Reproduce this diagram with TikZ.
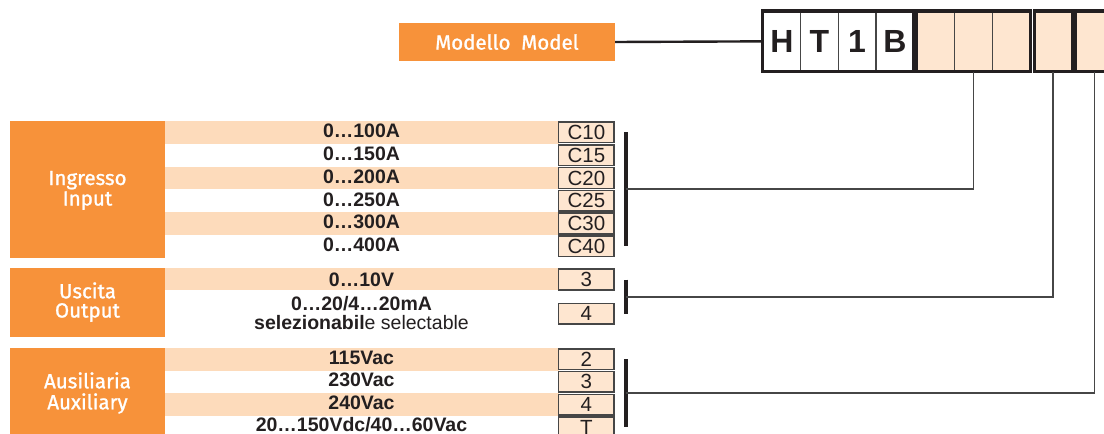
\documentclass[tikz,border=0pt]{standalone}
\usepackage{fontspec}
\setmainfont{Liberation Sans}
\newfontfamily\lblfont{Fira Sans}[FakeBold=1.2]
\usetikzlibrary{calc}
\definecolor{orng}{RGB}{247,146,58}
\definecolor{stripec}{RGB}{253,219,187}
\definecolor{peach}{RGB}{254,230,208}
\definecolor{ink}{RGB}{35,31,32}
\definecolor{lineg}{RGB}{70,70,70}
\tikzset{
  orangebox/.style={fill=orng, draw=none, inner sep=0pt, minimum width=155pt},
  wlabel/.style={text=white, anchor=base, inner sep=0pt, font=\lblfont\fontsize{20.5}{24}\selectfont},
  value/.style={text=ink, anchor=base, inner sep=0pt, font=\bfseries\fontsize{19.5}{22}\selectfont},
  codebox/.style={fill=peach, draw=lineg, line width=1.4pt, minimum width=55.3pt, minimum height=20.7pt, inner sep=0pt, text=ink, font=\fontsize{20.5}{22}\selectfont},
  cell/.style={draw=lineg, line width=1.2pt, minimum width=37.65pt, minimum height=59.3pt, inner sep=0pt, text=ink, font=\bfseries\fontsize{32}{34}\selectfont},
  pcell/.style={cell, fill=peach},
  frame/.style={draw=ink, line width=3.5pt},
  conn/.style={draw=lineg, line width=1.8pt},
  bar/.style={draw=ink, line width=4pt}
}
\begin{document}
\begin{tikzpicture}[x=1pt,y=-1pt]
\useasboundingbox (0,0) rectangle (1104,434);
\clip (0,0) rectangle (1104,434);
\fill[white] (0,0) rectangle (1104,434);

% model code header
\node[fill=orng, inner sep=0pt, minimum width=216pt, minimum height=38pt, text=white,
      font=\lblfont\fontsize{20.5}{24}\selectfont] (model) at (507,42) {Modello\ \ Model};
\node[cell] (h1) at (781.8,41.35) {H};
\node[cell] (h2) at (819.5,41.35) {T};
\node[cell] (h3) at (857.1,41.35) {1};
\node[cell] (h4) at (894.8,41.35) {B};
\node[pcell] (a1) at (935.8,41.35) {};
\node[pcell] (a2) at (973.5,41.35) {};
\node[pcell] (a3) at (1011.2,41.35) {};
\node[pcell, minimum width=36.7pt] (b1) at (1053.3,41.35) {};
\node[pcell, minimum width=37pt] (c1) at (1094.5,41.35) {};
\draw[frame] (h1.north west) rectangle (h4.south east);
\draw[frame] (a1.north west) rectangle (a3.south east);
\draw[frame] (b1.north west) rectangle (b1.south east);
\draw[frame] (c1.north west) rectangle (c1.south east);
\draw[draw=ink, line width=2.4pt] (model.east) -- (h1.west);

% Ingresso block
\node[orangebox, minimum height=136.7pt] (inbox) at (87.5,189.35) {};
\node[wlabel] (inA) at (87.5,185) {Ingresso};
\node[wlabel] (inB) at (87.5,205.5) {Input};
\foreach \i in {0,2,4} {
  \fill[stripec] (165,121+22.78*\i) rectangle (559,121+22.78*\i+22.78);
}
\foreach \v/\c/\k in {0…100A/C10/0, 0…150A/C15/1, 0…200A/C20/2, 0…250A/C25/3, 0…300A/C30/4, 0…400A/C40/5} {
  \node[value] (iv\k) at (361.5,132.4+22.78*\k+5.3) {\v};
  \node[codebox] (ic\k) at (586.4,132.4+22.78*\k) {\c};
}
\coordinate (ibt) at ($(ic0.east)+(11,0)$);
\coordinate (ibb) at ($(ic5.east)+(11,0)$);
\draw[bar] (ibt) -- (ibb);
\coordinate (ibm) at ($(ibt)!0.5!(ibb)$);
\draw[conn] (a2.south) |- (ibm);

% Uscita block
\node[orangebox, minimum height=69pt] (usbox) at (87.5,302.2) {};
\node[wlabel] (usA) at (87.5,298.3) {Uscita};
\node[wlabel] (usB) at (87.5,317.5) {Output};
\fill[stripec] (165,268.3) rectangle (559,290);
\node[value] (uv0) at (361.5,286) {0…10V};
\node[value] (uv1) at (361.5,310) {0…20/4…20mA};
\node[value, font=\mdseries\fontsize{19.5}{22}\selectfont] (uv2) at (361.5,329.3) {{\bfseries selezionabil}e selectable};
\node[codebox] (uc0) at (586.4,279.5) {3};
\node[codebox] (uc1) at (586.4,313.8) {4};
\coordinate (ubt) at ($(uc0.east)+(11,0)$);
\coordinate (ubb) at ($(uc1.east)+(11,0)$);
\draw[bar] (ubt) -- (ubb);
\coordinate (ubm) at ($(ubt)!0.5!(ubb)$);
\draw[conn] (b1.south) |- (ubm);

% Ausiliaria block
\node[orangebox, minimum height=88.6pt] (aubox) at (87.5,392) {};
\node[wlabel] (auA) at (87.5,388.3) {Ausiliaria};
\node[wlabel] (auB) at (87.5,409.3) {Auxiliary};
\fill[stripec] (165,348.3) rectangle (559,370.7);
\fill[stripec] (165,392.7) rectangle (559,415.7);
\node[value] (av0) at (361.5,364.3) {115Vac};
\node[value] (av1) at (361.5,386.7) {230Vac};
\node[value] (av2) at (361.5,409.3) {240Vac};
\node[value] (av3) at (361.5,431.7) {20…150Vdc/40…60Vac};
\node[codebox] (ac0) at (586.4,359.2) {2};
\node[codebox] (ac1) at (586.4,381.7) {3};
\node[codebox] (ac2) at (586.4,404.7) {4};
\node[codebox] (ac3) at (586.4,427.3) {T};
\coordinate (abt) at ($(ac0.east)+(11,0)$);
\coordinate (abb) at ($(ac3.east)+(11,0)$);
\draw[bar] (abt) -- (abb);
\coordinate (abm) at ($(abt)!0.5!(abb)$);
\draw[conn] (c1.south) |- (abm);
\end{tikzpicture}
\end{document}
